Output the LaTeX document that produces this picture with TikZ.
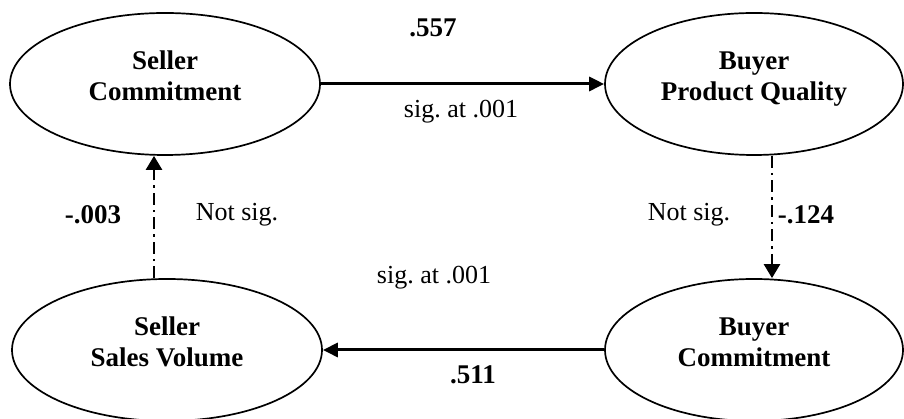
\documentclass[tikz,border=0pt]{standalone}
\usepackage{fontspec}
\setmainfont{Liberation Serif}
\usetikzlibrary{shapes.geometric,arrows.meta}
\frenchspacing
% two-line construct name, set a little above the ellipse centre
\newcommand{\constructname}[2]{\raisebox{5pt}[\height][\depth]{\begin{tabular}{@{}c@{}}#1\\#2\end{tabular}}}
\begin{document}
\begin{tikzpicture}[x=1pt,y=1pt,
  construct/.style={ellipse, draw, line width=1.7pt, inner sep=0pt,
    minimum height=142pt, font=\fontsize{27}{31}\selectfont\bfseries},
  sigpath/.style={line width=3pt, -{Triangle[length=15pt,width=14pt]}},
  nspath/.style={line width=2.4pt, dash pattern=on 12pt off 5pt on 2.5pt off 5pt,
    -{Triangle[length=14pt,width=16pt]}},
  coef/.style={font=\fontsize{27}{31}\selectfont\bfseries},
  note/.style={font=\fontsize{26}{30}\selectfont}]
\useasboundingbox (0,0) rectangle (904,419);

% constructs
\node[construct, minimum width=310pt] (sc) at (165,335) {\constructname{Seller}{Commitment}};
\node[construct, minimum width=298pt] (bq) at (754,335) {\constructname{Buyer}{Product Quality}};
\node[construct, minimum width=298pt] (bc) at (754,69) {\constructname{Buyer}{Commitment}};
\node[construct, minimum width=310pt] (sv) at (167,69) {\constructname{Seller}{Sales Volume}};

% significant paths
\draw[sigpath] (sc.east) -- (bq.west);
\draw[sigpath] (bc.west) -- (sv.east);

% non-significant paths
\coordinate (xl) at (154,0);
\coordinate (xr) at (772,0);
\draw[nspath] (sv.north -| xl) -- (sc.south -| xl);
\draw[nspath] (bq.south -| xr) -- (bc.north -| xr);

% path coefficients and notes
\node[coef] (c1) at (433,391) {.557};
\node[note] (n1) at (461,307) {sig. at .001};
\node[coef] (c2) at (93,204) {-.003};
\node[note] (n2) at (237,204) {Not sig.};
\node[note] (n3) at (689,204) {Not sig.};
\node[coef] (c3) at (806,204) {-.124};
\node[note] (n4) at (434,141) {sig. at .001};
\node[coef] (c4) at (473,44) {.511};
\end{tikzpicture}
\end{document}
